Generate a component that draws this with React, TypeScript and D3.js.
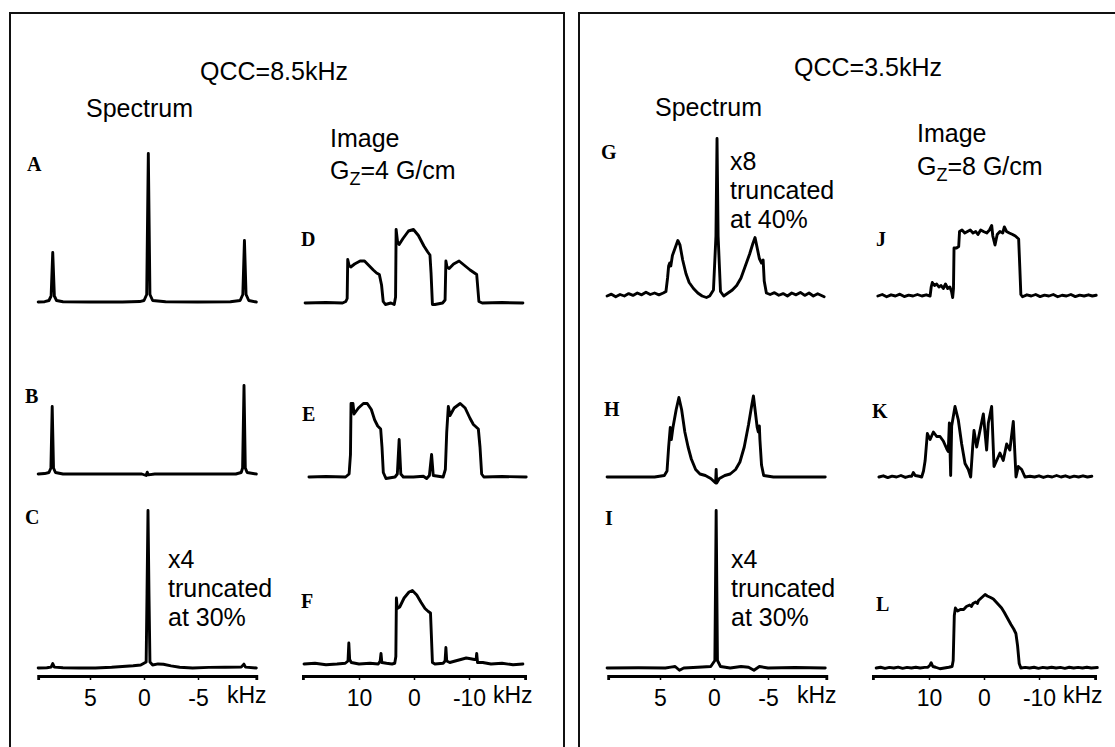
import React, { useRef, useEffect } from "react";
import * as d3 from "d3";

// traces: [frequency kHz, relative intensity]
const specA = [[9.8, 0], [9.2, 0.002], [8.8, 0.01], [8.6, 0.04], [8.45, 0.33], [8.3, 0.04], [8.1, 0.01], [7.5, 0.002], [5, 0], [2, 0], [0.4, 0.003], [0.0, 0.01], [-0.25, 0.05], [-0.4, 0.99], [-0.55, 0.05], [-0.8, 0.01], [-2, 0.002], [-5, 0], [-8, 0.002], [-8.9, 0.01], [-9.15, 0.05], [-9.3, 0.41], [-9.45, 0.05], [-9.7, 0.01], [-10.4, 0]];
const specB = [[9.8, 0], [9.2, 0.003], [8.8, 0.01], [8.62, 0.04], [8.5, 0.45], [8.38, 0.04], [8.2, 0.01], [7.5, 0], [4, 0], [0.2, 0], [-0.2, -0.01], [-0.3, 0.012], [-0.4, -0.006], [-1, 0], [-5, 0], [-8.5, 0], [-9.0, 0.01], [-9.13, 0.04], [-9.26, 0.59], [-9.38, 0.04], [-9.55, 0.01], [-10.4, 0]];
const specC = [[9.8, 0], [9.0, 0.002], [8.6, 0.006], [8.45, 0.03], [8.3, 0.006], [7.5, 0.002], [6, 0], [4.5, 0], [3, 0.005], [2, 0.01], [1, 0.015], [0.3, 0.02], [-0.2, 0.04], [-0.28, 0.5], [-0.37, 1.05], [-0.46, 0.5], [-0.55, 0.04], [-0.8, 0.02], [-1.3, 0.027], [-1.8, 0.025], [-2.5, 0.014], [-3.3, 0.005], [-4.5, 0], [-6, 0.004], [-7.5, 0.005], [-9.0, 0.006], [-9.25, 0.026], [-9.4, 0.006], [-10.4, 0]];
const imgD = [[19.8, 0], [16, 0.003], [13, 0], [12.4, 0.01], [12.15, 0.03], [12.05, 0.29], [11.8, 0.25], [11.5, 0.24], [10.8, 0.26], [9.8, 0.28], [9.0, 0.28], [8.2, 0.25], [7.4, 0.22], [6.8, 0.2], [6.3, 0.19], [5.9, 0.12], [5.6, 0.01], [5.2, -0.01], [4.2, 0], [3.6, -0.01], [3.35, 0.04], [3.25, 0.49], [3.0, 0.41], [2.7, 0.39], [2.0, 0.43], [1.0, 0.48], [0.1, 0.49], [-0.8, 0.45], [-1.8, 0.38], [-2.5, 0.34], [-2.9, 0.32], [-3.1, 0.2], [-3.35, -0.01], [-3.8, -0.01], [-5.2, 0], [-5.65, 0.02], [-5.8, 0.28], [-6.0, 0.24], [-6.4, 0.23], [-7.2, 0.26], [-8.2, 0.28], [-9.2, 0.25], [-10.2, 0.22], [-11.0, 0.2], [-11.4, 0.19], [-11.6, 0.1], [-11.8, 0.01], [-12.4, 0], [-16, 0.003], [-19.8, 0]];
const imgE = [[19.1, 0], [16, 0.003], [12.45, 0], [11.8, 0.02], [11.55, 0.15], [11.45, 0.49], [11.1, 0.49], [10.9, 0.42], [10.1, 0.46], [9.2, 0.49], [8.5, 0.49], [7.76, 0.45], [7.15, 0.38], [6.6, 0.34], [6.06, 0.32], [5.82, 0.2], [5.58, 0.03], [5.1, -0.01], [3.45, 0], [3.03, 0.02], [2.7, 0.25], [2.4, 0.02], [1.94, 0], [0.12, 0], [-1.7, 0.005], [-2.3, -0.01], [-2.8, 0.01], [-3.2, 0.15], [-3.5, 0.01], [-5.3, 0], [-5.7, 0.05], [-5.95, 0.3], [-6.24, 0.47], [-6.55, 0.41], [-7.3, 0.46], [-8.4, 0.49], [-9.3, 0.46], [-10.2, 0.39], [-10.8, 0.35], [-11.7, 0.32], [-12.0, 0.2], [-12.3, 0.02], [-12.7, 0], [-16, 0.003], [-20.4, 0]];
const imgF = [[20, 0], [18, 0.005], [16, -0.005], [14, 0], [12.5, 0.005], [12.0, 0.02], [11.85, 0.14], [11.7, 0.03], [11.4, 0.01], [10, 0], [8, 0.005], [6.5, 0], [6.15, 0.02], [6.0, 0.07], [5.85, 0.01], [5.0, 0.005], [4.0, 0], [3.5, 0.005], [3.3, 0.05], [3.2, 0.44], [3.05, 0.37], [2.6, 0.38], [1.8, 0.44], [0.9, 0.48], [0.3, 0.49], [-0.5, 0.46], [-1.3, 0.41], [-2.0, 0.37], [-2.6, 0.35], [-3.0, 0.34], [-3.15, 0.2], [-3.35, 0.01], [-3.8, 0], [-5.3, 0.005], [-5.65, 0.02], [-5.8, 0.11], [-5.95, 0.02], [-6.5, 0.01], [-7.5, 0.02], [-8.5, 0.03], [-9.5, 0.04], [-10.3, 0.035], [-11.0, 0.03], [-11.3, 0.03], [-11.4, 0.07], [-11.55, 0.01], [-12.5, 0.01], [-14, 0], [-16, 0.005], [-18, -0.005], [-19.8, 0]];

const specG = [[9.9, 0], [9.5, 0.012], [9.1, -0.005], [8.7, 0.01], [8.3, 0], [7.9, 0.016], [7.5, 0.004], [7.1, 0.02], [6.7, 0.008], [6.3, 0.025], [5.9, 0.01], [5.5, 0.02], [5.1, 0.008], [4.7, 0.02], [4.45, 0.03], [4.3, 0.12], [4.2, 0.2], [4.1, 0.22], [4.0, 0.2], [3.85, 0.27], [3.6, 0.32], [3.35, 0.37], [3.15, 0.34], [2.9, 0.24], [2.6, 0.15], [2.3, 0.09], [1.9, 0.05], [1.5, 0.02], [1.1, 0], [0.7, -0.01], [0.4, 0], [0.05, 0.04], [-0.18, 0.4], [-0.28, 1.05], [-0.38, 0.4], [-0.6, 0.03], [-0.9, 0], [-1.3, 0.02], [-1.7, 0.04], [-2.1, 0.07], [-2.5, 0.12], [-2.9, 0.2], [-3.3, 0.28], [-3.6, 0.35], [-3.8, 0.39], [-4.0, 0.32], [-4.2, 0.25], [-4.4, 0.22], [-4.55, 0.24], [-4.65, 0.1], [-4.85, 0.02], [-5.2, 0.01], [-5.6, 0.022], [-6.0, 0.005], [-6.4, 0.016], [-6.8, 0], [-7.2, 0.02], [-7.6, 0.008], [-8.0, 0.024], [-8.4, 0.004], [-8.8, 0.02], [-9.2, 0], [-9.6, 0.015], [-10.2, -0.005]];
const specH = [[9.9, 0], [5.5, 0], [4.6, 0.01], [4.35, 0.04], [4.2, 0.2], [4.05, 0.33], [3.95, 0.25], [3.8, 0.33], [3.5, 0.45], [3.25, 0.53], [3.0, 0.45], [2.7, 0.3], [2.4, 0.2], [2.1, 0.12], [1.7, 0.05], [1.3, 0.02], [0.8, 0.01], [0.3, -0.01], [0, -0.03], [-0.15, -0.04], [-0.2, 0.05], [-0.25, -0.04], [-0.5, -0.01], [-1.0, 0.01], [-1.5, 0.02], [-2.0, 0.05], [-2.4, 0.1], [-2.8, 0.2], [-3.2, 0.35], [-3.5, 0.48], [-3.65, 0.54], [-3.85, 0.42], [-4.0, 0.33], [-4.1, 0.3], [-4.2, 0.34], [-4.25, 0.25], [-4.4, 0.08], [-4.6, 0.01], [-5.5, 0], [-10.3, 0]];
const specI = [[9.9, 0], [7, 0.002], [4.5, 0], [4.0, 0.006], [3.6, 0.01], [3.2, -0.015], [2.8, 0], [1.5, 0.005], [0.3, 0.01], [-0.08, 0.05], [-0.2, 1.05], [-0.32, 0.05], [-0.6, 0.01], [-1.5, 0], [-2.5, 0.01], [-3.2, 0.005], [-3.7, -0.015], [-4.2, 0.01], [-5, 0], [-7.5, 0.003], [-10.3, 0]];
const imgJ = [[19.3, 0], [18.5, 0.01], [17.7, -0.005], [16.9, 0.008], [16.1, 0], [15.3, 0.012], [14.5, -0.004], [13.7, 0.006], [12.9, 0], [12.1, 0.01], [11.3, 0], [10.5, 0.008], [9.8, 0], [9.6, 0.06], [9.4, 0.09], [9.0, 0.07], [8.6, 0.08], [8.2, 0.06], [7.8, 0.07], [7.4, 0.05], [7.0, 0.08], [6.6, 0.05], [6.2, 0.06], [5.9, 0.03], [5.7, -0.01], [5.55, 0.05], [5.45, 0.32], [5.0, 0.32], [4.6, 0.33], [4.45, 0.43], [4.0, 0.44], [3.5, 0.42], [3.0, 0.43], [2.5, 0.44], [2.0, 0.42], [1.5, 0.43], [1.1, 0.41], [0.6, 0.44], [0.1, 0.43], [-0.5, 0.42], [-1.0, 0.44], [-1.4, 0.47], [-1.6, 0.4], [-2.0, 0.34], [-2.4, 0.41], [-2.9, 0.43], [-3.4, 0.42], [-3.7, 0.46], [-4.1, 0.43], [-4.6, 0.42], [-5.2, 0.41], [-5.7, 0.4], [-6.3, 0.38], [-6.5, 0.2], [-6.7, 0.01], [-7.0, -0.005], [-7.8, 0.008], [-8.6, 0], [-9.4, 0.01], [-10.2, -0.004], [-11.0, 0.006], [-11.8, 0], [-12.6, 0.01], [-13.4, -0.005], [-14.2, 0.005], [-15.0, 0], [-15.8, 0.01], [-16.6, -0.004], [-17.4, 0.006], [-18.2, 0], [-19.0, 0.008], [-19.7, 0], [-20.4, 0.005]];
const imgK = [[19.1, 0], [18.3, 0.008], [17.5, -0.004], [16.7, 0.006], [15.9, 0], [15.1, 0.01], [14.3, -0.003], [13.5, 0.006], [13.15, 0.005], [12.85, 0.03], [12.5, 0.01], [11.8, 0.005], [11.33, 0], [11.0, 0.04], [10.7, 0.11], [10.3, 0.29], [9.8, 0.25], [9.2, 0.3], [8.6, 0.27], [8.0, 0.27], [7.4, 0.24], [6.8, 0.19], [6.5, 0.17], [6.3, 0.36], [6.06, 0.01], [5.88, 0.34], [5.27, 0.47], [4.67, 0.38], [4.06, 0.22], [3.45, 0.09], [2.85, 0.05], [2.42, 0], [2.06, 0.2], [1.82, 0.31], [1.33, 0.2], [0.73, 0.31], [0.12, 0.42], [-0.48, 0.18], [-0.79, 0.36], [-1.39, 0.47], [-1.82, 0.07], [-2.3, 0.11], [-2.9, 0.16], [-3.5, 0.11], [-4.12, 0.22], [-4.7, 0.18], [-5.33, 0.37], [-5.82, 0], [-6.24, 0.07], [-6.85, 0.05], [-7.45, 0], [-8.36, 0.005], [-9.2, 0], [-10.0, 0.008], [-10.8, -0.003], [-11.6, 0.006], [-12.4, 0], [-13.2, 0.01], [-14.0, 0], [-14.8, 0.008], [-15.6, -0.003], [-16.4, 0.006], [-17.2, 0], [-18.0, 0.008], [-18.8, 0], [-19.6, 0.005]];
const imgL = [[19.6, 0], [18.8, 0.005], [18.0, -0.003], [17.2, 0.004], [16.4, 0], [15.6, 0.006], [14.8, -0.002], [14.0, 0.004], [13.2, 0], [12.4, 0.005], [11.6, 0], [10.8, 0.004], [10.2, 0.005], [9.8, 0.02], [9.6, 0.035], [9.3, 0.01], [8.8, 0.005], [8.0, -0.005], [7.2, 0], [6.4, 0.005], [5.8, 0.01], [5.6, 0.05], [5.4, 0.35], [5.2, 0.4], [4.8, 0.38], [4.3, 0.39], [3.7, 0.39], [3.2, 0.41], [2.6, 0.42], [2.3, 0.41], [2.0, 0.43], [1.5, 0.44], [1.2, 0.43], [1.0, 0.45], [0.4, 0.47], [-0.2, 0.49], [-0.6, 0.48], [-1.2, 0.47], [-1.7, 0.46], [-2.2, 0.44], [-2.7, 0.42], [-3.2, 0.4], [-3.7, 0.37], [-4.3, 0.33], [-4.9, 0.29], [-5.4, 0.26], [-5.8, 0.23], [-6.1, 0.15], [-6.4, 0.03], [-6.7, 0], [-7.5, 0.004], [-8.3, 0], [-9.1, 0.005], [-9.9, -0.002], [-10.7, 0.004], [-11.5, 0], [-12.3, 0.005], [-13.1, 0], [-13.9, 0.004], [-14.7, -0.002], [-15.5, 0.005], [-16.3, 0], [-17.1, 0.004], [-17.9, 0], [-18.7, 0.005], [-19.5, 0], [-20.6, 0.003]];

const specTicks = [5, 0, -5];
const imgTicks = [10, 0, -10];
const qccLabels = ["QCC=8.5kHz", "QCC=3.5kHz"];
const gradLabels = ["4", "8"];
const noteLabels = [["x4", "truncated", "at 30%"], ["x8", "truncated", "at 40%"], ["x4", "truncated", "at 30%"]];

const SANS = "'Liberation Sans', Arial, Helvetica, sans-serif";
const SERIF = "'Liberation Serif', 'Times New Roman', serif";

const App = () => {
  const svgRef = useRef<SVGSVGElement>(null);

  useEffect(() => {
    const svg = d3.select(svgRef.current);
    svg.selectAll("*").remove();
    const W = 1115;
    const H = 747;
    const dx = 570; // offset of the right box

    // boxes
    svg.append("rect").attr("x", 10).attr("y", 13).attr("width", 554).attr("height", 800)
      .attr("fill", "none").attr("stroke", "#111").attr("stroke-width", 2);
    svg.append("rect").attr("x", 579).attr("y", 13).attr("width", 600).attr("height", 800)
      .attr("fill", "none").attr("stroke", "#111").attr("stroke-width", 2);

    const specX = (ox) => d3.scaleLinear().domain([10, -10]).range([36 + ox, 252 + ox]);
    const imgX = (ox) => d3.scaleLinear().domain([20, -20]).range([304 + ox, 524 + ox]);
    const yAt = (base) => d3.scaleLinear().domain([0, 1]).range([base, base - 150]);

    const panels = [
      { data: specA, kind: "s", ox: 0, base: 302, letter: "A", lx: 27, ly: 171 },
      { data: specB, kind: "s", ox: 0, base: 474, letter: "B", lx: 25, ly: 403 },
      { data: specC, kind: "s", ox: 0, base: 668, letter: "C", lx: 25, ly: 524 },
      { data: imgD, kind: "i", ox: 0, base: 303, letter: "D", lx: 301, ly: 246 },
      { data: imgE, kind: "i", ox: 0, base: 477, letter: "E", lx: 302, ly: 421 },
      { data: imgF, kind: "i", ox: 0, base: 664, letter: "F", lx: 301, ly: 608 },
      { data: specG, kind: "s", ox: dx, base: 296, letter: "G", lx: 601, ly: 159 },
      { data: specH, kind: "s", ox: dx, base: 477, letter: "H", lx: 604, ly: 416 },
      { data: specI, kind: "s", ox: dx, base: 668, letter: "I", lx: 605, ly: 525 },
      { data: imgJ, kind: "i", ox: dx, base: 296, letter: "J", lx: 876, ly: 246 },
      { data: imgK, kind: "i", ox: dx, base: 477, letter: "K", lx: 872, ly: 418 },
      { data: imgL, kind: "i", ox: dx, base: 668, letter: "L", lx: 876, ly: 611 },
    ];

    panels.forEach((p) => {
      const x = p.kind === "s" ? specX(p.ox) : imgX(p.ox);
      const y = yAt(p.base);
      const line = d3.line<number[]>().x((d) => x(d[0])).y((d) => y(d[1]));
      svg.append("path").attr("d", line(p.data as number[][]))
        .attr("fill", "none").attr("stroke", "#000").attr("stroke-width", 2.9)
        .attr("stroke-linejoin", "round").attr("stroke-linecap", "round");
      svg.append("text").attr("x", p.lx).attr("y", p.ly).text(p.letter)
        .attr("font-family", SERIF).attr("font-weight", "bold").attr("font-size", 20);
    });

    // x axes under the bottom row
    const axisY = 676;
    [0, dx].forEach((ox) => {
      [
        { x: specX(ox), ext: [9.8, -10.4], ticks: specTicks, unitGap: 29, last: -5 },
        { x: imgX(ox), ext: [20.2, -20.2], ticks: imgTicks, unitGap: 24, last: -10 },
      ].forEach((a) => {
        const sx = a.x.copy().domain(a.ext).range(a.ext.map((v) => a.x(v)));
        const g = svg.append("g").attr("transform", `translate(0,${axisY})`);
        g.call(
          d3.axisBottom(sx).tickValues(a.ticks).tickSize(4).tickSizeOuter(4)
            .tickPadding(10).tickFormat((d) => String(d))
        );
        g.select(".domain").attr("stroke", "#000").attr("stroke-width", 2.8);
        g.selectAll(".tick line").attr("stroke", "#000").attr("stroke-width", 1.5);
        g.selectAll(".tick text").attr("font-family", SANS).attr("font-size", 23).attr("fill", "#000");
        svg.append("text").attr("x", a.x(a.last) + a.unitGap).attr("y", axisY + 27)
          .text("kHz").attr("font-family", SANS).attr("font-size", 23);
      });
    });

    // headings
    const txt = (x, y, s, size = 25) =>
      svg.append("text").attr("x", x).attr("y", y).text(s).attr("font-family", SANS).attr("font-size", size);
    const heads = [
      { qx: 200, qy: 80, sx: 86, sy: 117, ix: 330, iy: 147, gy: 179 },
      { qx: 794 - dx, qy: 76, sx: 85, sy: 116, ix: 347, iy: 142, gy: 175 },
    ];
    [0, dx].forEach((ox, i) => {
      const h = heads[i];
      txt(h.qx + ox, h.qy, qccLabels[i]);
      txt(h.sx + ox, h.sy, "Spectrum");
      txt(h.ix + ox, h.iy, "Image");
      const gz = svg.append("text").attr("x", h.ix + ox).attr("y", h.gy)
        .attr("font-family", SANS).attr("font-size", 25);
      gz.append("tspan").text("G");
      gz.append("tspan").text("Z").attr("font-size", 18).attr("dy", 6);
      gz.append("tspan").text(`=${gradLabels[i]} G/cm`).attr("dy", -6);
    });

    // annotation notes beside the truncated centre peaks
    const notes = [
      { ox: 0, x: 168, y: 568 },
      { ox: dx, x: 160, y: 170 },
      { ox: dx, x: 161, y: 568 },
    ];
    notes.forEach((n, i) => {
      noteLabels[i].forEach((s, k) => txt(n.x + n.ox, n.y + k * 29, s));
    });

    svg.attr("width", W).attr("height", H);
  }, []);

  return (
    <svg ref={svgRef} width={1115} height={747}
      style={{ position: "absolute", left: 0, top: 0, background: "#fff" }} />
  );
};

export default App;
